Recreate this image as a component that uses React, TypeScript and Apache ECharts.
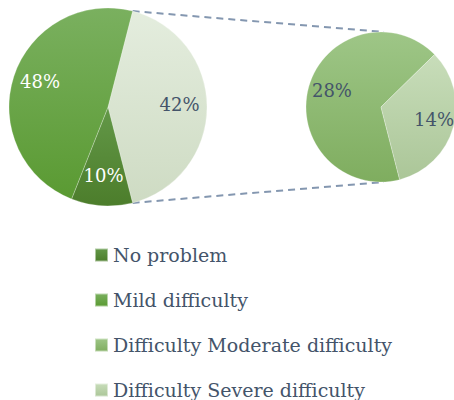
import React, { useEffect, useRef } from "react";
import * as echarts from "echarts";

// ---- data ----
const mainCategories = ["Other", "No problem", "Mild difficulty"];
const mainValues = [42, 10, 48];
const subCategories = ["Difficulty Moderate difficulty", "Difficulty Severe difficulty"];
const subValues = [28, 14];
const legendNames = [
  "No problem",
  "Mild difficulty",
  "Difficulty Moderate difficulty",
  "Difficulty Severe difficulty",
];

// ---- styles ----
const FONT = "DejaVu Serif";
const TEXT = "#44546a";
const grad = (a: string, b: string) =>
  new echarts.graphic.LinearGradient(0, 0, 0, 1, [
    { offset: 0, color: a },
    { offset: 1, color: b },
  ]);
const fills: Record<string, [string, string]> = {
  Other: ["#e4edde", "#cedbc3"],
  "No problem": ["#639848", "#4c7d2b"],
  "Mild difficulty": ["#7ab05f", "#5a9a32"],
  "Difficulty Moderate difficulty": ["#9ec687", "#7fad5f"],
  "Difficulty Severe difficulty": ["#c8ddba", "#abc698"],
};
const labelColors: Record<string, string> = {
  Other: TEXT,
  "No problem": "#ffffff",
  "Mild difficulty": "#ffffff",
  "Difficulty Moderate difficulty": TEXT,
  "Difficulty Severe difficulty": TEXT,
};

const L = { cx: 108, cy: 107, r: 99 };
const R = { cx: 381, cy: 107, r: 75 };

export default function App() {
  const ref = useRef<HTMLDivElement>(null);
  useEffect(() => {
    if (!ref.current) return;
    const chart = echarts.init(ref.current, null, { renderer: "svg" });
    const total = mainValues.reduce((a, b) => a + b, 0);
    const otherHalf = ((mainValues[0] / total) * 360) / 2;
    const leftStart = otherHalf;
    const rightStart = -otherHalf;
    const rad = (otherHalf * Math.PI) / 180;
    const lTop = [L.cx + L.r * Math.cos(rad), L.cy - L.r * Math.sin(rad)];
    const lBot = [L.cx + L.r * Math.cos(rad), L.cy + L.r * Math.sin(rad)];
    const rTop = [R.cx + 3, R.cy - R.r];
    const rBot = [R.cx + 3, R.cy + R.r];

    const mk = (names: string[], vals: number[], withFill: boolean) =>
      names.map((n, i) => ({
        name: n,
        value: vals[i],
        itemStyle: withFill
          ? { color: grad(fills[n][0], fills[n][1]) }
          : { color: "rgba(0,0,0,0)" },
        label: { color: labelColors[n] },
      }));

    const baseLabel = { show: false };
    const lbl = {
      show: true,
      position: "inside",
      formatter: "{c}%",
      fontFamily: FONT,
      fontSize: 18,
    };

    chart.setOption({
      animation: false,
      legend: {
        data: legendNames,
        orient: "vertical",
        left: 94,
        top: 244,
        height: 160,
        padding: 0,
        icon: "rect",
        itemWidth: 13,
        itemHeight: 13,
        itemGap: 23,
        selectedMode: false,
        textStyle: { fontFamily: FONT, fontSize: 19, color: TEXT, lineHeight: 22 },
      },
      graphic: [
        {
          type: "line",
          z: -1,
          shape: { x1: lTop[0], y1: lTop[1], x2: rTop[0], y2: rTop[1] },
          style: { stroke: "#8497b0", lineWidth: 2, lineDash: [7, 5] },
        },
        {
          type: "line",
          z: -1,
          shape: { x1: lBot[0], y1: lBot[1], x2: rBot[0], y2: rBot[1] },
          style: { stroke: "#8497b0", lineWidth: 2, lineDash: [7, 5] },
        },
      ],
      series: [
        {
          type: "pie",
          center: [L.cx, L.cy],
          radius: [0, L.r],
          startAngle: leftStart,
          clockwise: true,
          silent: true,
          label: baseLabel,
          labelLine: { show: false },
          itemStyle: { borderColor: "rgba(255,255,255,0.5)", borderWidth: 0.5 },
          emphasis: { disabled: true },
          data: mk(mainCategories, mainValues, true),
        },
        {
          type: "pie",
          center: [R.cx, R.cy],
          radius: [0, R.r],
          startAngle: rightStart,
          clockwise: true,
          silent: true,
          label: baseLabel,
          labelLine: { show: false },
          itemStyle: { borderColor: "rgba(255,255,255,0.5)", borderWidth: 0.5 },
          emphasis: { disabled: true },
          data: mk(subCategories, subValues, true),
        },
        {
          type: "pie",
          center: [L.cx, L.cy - 3],
          radius: [38, L.r],
          startAngle: leftStart,
          clockwise: true,
          silent: true,
          label: lbl,
          labelLine: { show: false },
          emphasis: { disabled: true },
          z: 5,
          data: mk(mainCategories, mainValues, false),
        },
        {
          type: "pie",
          center: [R.cx + 2, R.cy - 2],
          radius: [25, R.r],
          startAngle: rightStart,
          clockwise: true,
          silent: true,
          label: lbl,
          labelLine: { show: false },
          emphasis: { disabled: true },
          z: 5,
          data: mk(subCategories, subValues, false),
        },
      ],
    });
    return () => chart.dispose();
  }, []);
  return (
    <div
      ref={ref}
      style={{ position: "absolute", left: 0, top: 0, width: 454, height: 400, background: "#fff" }}
    />
  );
}
